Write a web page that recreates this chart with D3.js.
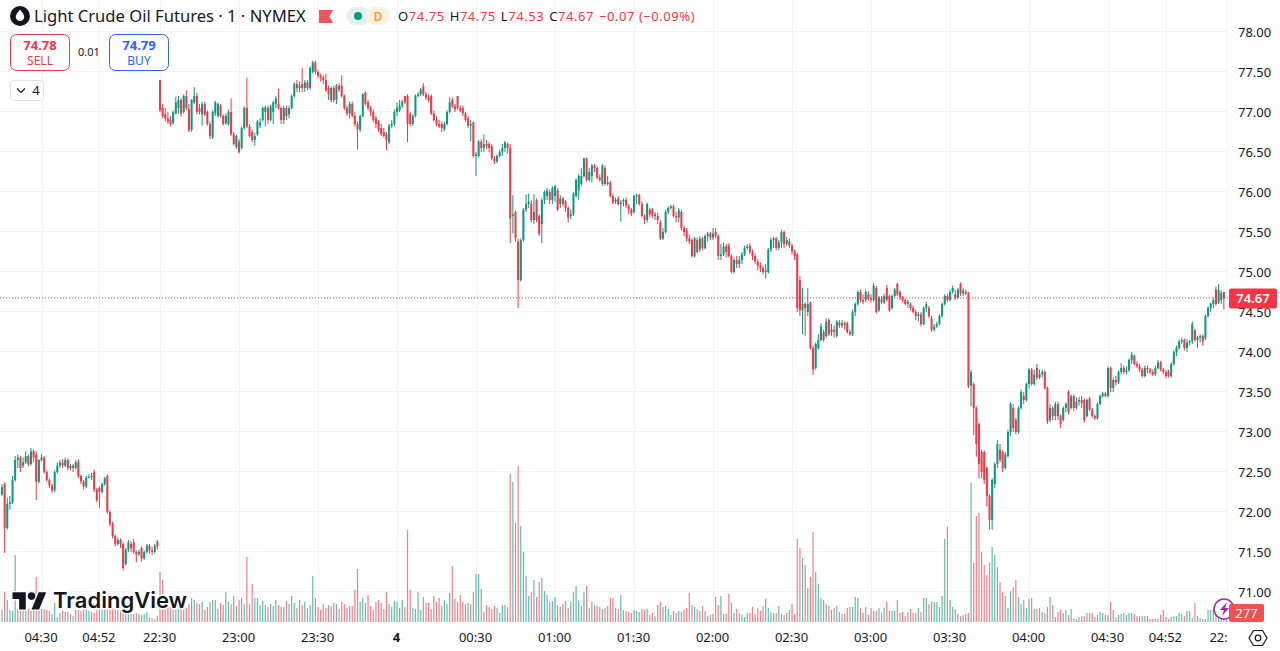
<!DOCTYPE html>
<html>
<head>
<meta charset="utf-8">
<title>Light Crude Oil Futures</title>
<script src="https://cdn.jsdelivr.net/npm/d3@7"></script>
<style>
  html, body { margin: 0; padding: 0; background: #fff; overflow: hidden; }
  text { font-family: "Noto Sans", sans-serif; }
</style>
</head>
<body>
<div id="canvas"></div>
<script>
// one bar per minute, left part is the tail of the previous session
const opens = [
72.22,72.35,71.80,72.10,72.12,72.40,72.65,72.68,72.58,72.62,
72.70,72.60,72.76,72.72,72.38,72.65,72.68,72.50,72.40,72.33,
72.27,72.50,72.58,72.62,72.58,72.65,72.55,72.58,72.55,72.63,
72.45,72.38,72.32,72.43,72.44,72.50,72.28,72.30,72.25,72.35,
72.45,72.00,71.85,71.70,71.60,71.65,71.60,71.35,71.53,71.60,
71.62,71.50,71.47,71.55,71.42,71.50,71.58,71.52,71.50,71.63,
77.40,77.05,76.97,76.92,76.90,76.86,76.98,77.05,77.15,77.00,
77.20,77.04,76.78,77.12,77.20,77.05,76.97,77.10,77.00,76.85,
76.68,76.98,76.95,77.08,76.95,76.86,76.85,77.00,76.72,76.56,
76.63,76.55,76.80,77.05,76.82,76.75,76.65,76.72,76.83,76.90,
77.00,77.05,76.90,77.00,77.10,77.10,77.05,76.90,77.05,76.97,
77.05,77.20,77.35,77.30,77.35,77.30,77.37,77.30,77.50,77.62,
77.50,77.45,77.43,77.40,77.30,77.15,77.30,77.15,77.33,77.33,
77.20,77.05,76.98,77.10,76.95,76.85,76.78,76.95,77.24,77.12,
77.05,77.00,76.92,76.88,76.80,76.75,76.72,76.62,76.83,76.85,
77.00,77.02,77.08,77.20,77.20,76.98,76.85,76.95,77.20,77.22,
77.32,77.22,77.18,77.20,76.98,76.90,76.85,76.85,76.78,76.85,
77.00,77.15,77.07,77.20,77.05,77.05,76.98,76.92,76.83,76.87,
76.45,76.45,76.63,76.55,76.60,76.60,76.57,76.42,76.38,76.45,
76.50,76.55,76.60,76.55,75.70,75.75,75.38,74.90,75.40,75.78,
75.85,75.85,75.65,75.90,75.70,75.60,75.90,75.95,76.00,75.90,
75.95,76.02,75.85,75.92,75.88,75.80,75.70,75.72,75.95,76.02,
76.10,76.20,76.42,76.15,76.20,76.33,76.30,76.18,76.10,76.30,
76.10,76.12,75.95,75.88,75.92,75.85,75.88,75.90,75.82,75.78,
75.75,75.95,75.96,75.85,75.70,75.65,75.78,75.78,75.70,75.70,
75.62,75.42,75.50,75.75,75.80,75.82,75.70,75.68,75.75,75.55,
75.52,75.42,75.40,75.20,75.40,75.28,75.42,75.30,75.45,75.48,
75.43,75.50,75.45,75.20,75.22,75.32,75.33,75.20,75.00,75.15,
75.10,75.15,75.22,75.30,75.33,75.25,75.20,75.13,75.08,75.05,
75.00,75.00,75.28,75.40,75.42,75.30,75.37,75.50,75.35,75.38,
75.33,75.26,75.22,74.90,74.52,74.60,74.50,74.62,74.05,73.80,
74.05,74.15,74.25,74.20,74.40,74.25,74.28,74.20,74.37,74.33,
74.36,74.36,74.25,74.22,74.50,74.60,74.75,74.65,74.65,74.72,
74.67,74.65,74.80,74.52,74.66,74.62,74.80,74.70,74.55,74.70,
74.85,74.75,74.68,74.65,74.60,74.60,74.55,74.50,74.45,74.47,
74.35,74.55,74.55,74.42,74.28,74.32,74.35,74.45,74.60,74.70,
74.65,74.75,74.72,74.68,74.85,74.73,74.75,74.73,73.58,73.60,
73.30,73.10,72.75,72.75,72.55,72.20,71.90,72.35,72.60,72.78,
72.75,72.55,72.70,73.00,73.30,73.15,73.00,73.30,73.45,73.40,
73.60,73.78,73.60,73.80,73.68,73.72,73.75,73.55,73.15,73.30,
73.20,73.35,73.20,73.15,73.30,73.50,73.30,73.45,73.30,73.38,
73.40,73.40,73.20,73.42,73.28,73.20,73.17,73.35,73.45,73.48,
73.45,73.80,73.55,73.65,73.62,73.75,73.80,73.75,73.77,73.90,
73.95,73.85,73.82,73.78,73.70,73.80,73.78,73.75,73.72,73.80,
73.87,73.78,73.75,73.75,73.70,73.85,74.00,74.05,74.13,74.15,
74.05,74.12,74.13,74.27,74.15,74.18,74.20,74.17,74.45,74.55,
74.60,74.78,74.62,74.65,74.75
];
const closes = [
72.31,71.80,72.10,72.12,72.40,72.65,72.68,72.55,72.62,72.70,
72.60,72.76,72.68,72.38,72.65,72.68,72.50,72.40,72.33,72.27,
72.50,72.58,72.62,72.58,72.65,72.55,72.58,72.55,72.62,72.45,
72.38,72.32,72.43,72.44,72.45,72.28,72.15,72.25,72.35,72.42,
72.00,71.85,71.70,71.60,71.65,71.60,71.30,71.53,71.62,71.55,
71.50,71.47,71.50,71.42,71.50,71.58,71.52,71.50,71.58,71.57,
77.02,76.95,76.92,76.88,76.85,77.00,77.12,77.15,76.98,77.20,
77.05,76.77,77.15,77.20,77.00,77.00,77.10,76.97,76.85,76.70,
77.00,77.12,77.10,76.95,76.85,76.95,77.00,76.72,76.60,76.70,
76.50,76.80,77.05,76.82,76.70,76.65,76.70,76.88,76.87,77.05,
77.06,76.90,77.07,77.12,77.17,77.05,76.90,77.05,76.95,77.05,
77.20,77.35,77.30,77.33,77.30,77.37,77.30,77.55,77.62,77.50,
77.45,77.43,77.40,77.27,77.22,77.30,77.15,77.33,77.28,77.20,
77.05,76.98,77.10,76.95,76.85,76.78,76.95,77.22,77.10,77.05,
77.00,76.90,76.85,76.78,76.72,76.70,76.65,76.83,76.85,77.00,
77.05,77.08,77.13,77.12,76.85,76.85,76.95,77.20,77.22,77.28,
77.22,77.18,77.15,76.98,76.90,76.85,76.82,76.80,76.85,77.00,
77.12,77.07,77.03,77.05,77.02,76.98,76.90,76.83,76.85,76.45,
76.47,76.63,76.55,76.60,76.58,76.55,76.42,76.38,76.45,76.50,
76.55,76.62,76.55,75.67,75.72,75.42,74.90,75.40,75.78,75.85,
75.88,75.65,75.75,75.65,75.48,75.90,76.00,76.02,75.90,76.05,
76.07,75.78,75.92,75.85,75.80,75.68,75.72,75.98,76.15,76.20,
76.20,76.42,76.15,76.25,76.33,76.30,76.18,76.15,76.33,76.10,
76.12,75.95,75.87,75.90,75.85,75.87,75.90,75.83,75.78,75.73,
75.95,75.96,75.85,75.70,75.65,75.85,75.72,75.70,75.72,75.65,
75.42,75.50,75.75,75.80,75.82,75.70,75.68,75.77,75.55,75.50,
75.42,75.38,75.20,75.42,75.25,75.42,75.30,75.45,75.48,75.43,
75.48,75.45,75.20,75.22,75.32,75.25,75.20,75.00,75.15,75.10,
75.15,75.22,75.30,75.32,75.25,75.20,75.13,75.08,75.05,75.00,
75.02,75.28,75.40,75.42,75.30,75.37,75.50,75.35,75.40,75.33,
75.26,75.20,74.55,74.52,74.60,74.55,74.60,74.05,73.78,74.10,
74.15,74.32,74.15,74.38,74.22,74.28,74.25,74.38,74.33,74.36,
74.34,74.25,74.22,74.50,74.60,74.75,74.65,74.63,74.75,74.67,
74.65,74.83,74.50,74.68,74.62,74.70,74.65,74.52,74.70,74.78,
74.72,74.68,74.65,74.60,74.63,74.55,74.50,74.45,74.47,74.35,
74.55,74.60,74.45,74.28,74.32,74.35,74.45,74.60,74.70,74.65,
74.75,74.80,74.68,74.78,74.73,74.77,74.73,73.57,73.75,73.30,
72.85,72.60,72.50,72.40,72.20,71.90,72.40,72.60,72.85,72.65,
72.55,72.72,73.00,73.35,73.05,73.00,73.30,73.50,73.40,73.60,
73.78,73.60,73.72,73.68,73.72,73.75,73.55,73.13,73.30,73.20,
73.35,73.20,73.10,73.30,73.35,73.25,73.45,73.30,73.38,73.40,
73.36,73.15,73.40,73.28,73.20,73.17,73.35,73.45,73.48,73.45,
73.80,73.55,73.65,73.62,73.75,73.80,73.75,73.77,73.90,73.97,
73.85,73.82,73.78,73.70,73.80,73.78,73.75,73.72,73.80,73.87,
73.78,73.75,73.70,73.70,73.85,74.00,74.05,74.13,74.15,74.05,
74.12,74.13,74.35,74.15,74.18,74.20,74.13,74.45,74.55,74.60,
74.65,74.60,74.78,74.74,74.67
];
const highs = [
72.35,72.37,72.18,72.20,72.45,72.70,72.72,72.70,72.68,72.76,
72.72,72.80,72.78,72.76,72.66,72.72,72.70,72.52,72.42,72.35,
72.52,72.62,72.65,72.66,72.68,72.67,72.60,72.60,72.65,72.66,
72.47,72.40,72.45,72.47,72.49,72.53,72.30,72.32,72.37,72.44,
72.47,72.02,71.88,71.72,71.68,71.67,71.62,71.55,71.65,71.63,
71.66,71.52,71.53,71.57,71.52,71.60,71.60,71.56,71.60,71.65,
77.40,77.10,77.05,77.00,76.95,77.02,77.19,77.20,77.17,77.22,
77.27,77.10,77.16,77.31,77.24,77.10,77.13,77.13,77.02,76.88,
77.02,77.14,77.12,77.10,76.97,76.98,77.03,77.17,76.75,76.72,
76.66,76.82,77.07,77.43,76.85,76.78,76.74,76.90,76.92,77.07,
77.08,77.08,77.09,77.14,77.20,77.29,77.07,77.08,77.08,77.08,
77.22,77.37,77.40,77.38,77.55,77.40,77.40,77.57,77.64,77.64,
77.53,77.48,77.46,77.48,77.33,77.32,77.33,77.35,77.36,77.46,
77.22,77.08,77.13,77.13,77.00,76.88,76.97,77.24,77.26,77.15,
77.08,77.03,76.95,76.90,76.85,76.80,76.75,76.85,76.90,77.03,
77.12,77.15,77.15,77.20,77.22,77.00,76.97,77.22,77.25,77.30,
77.36,77.25,77.22,77.22,77.02,76.95,76.90,76.88,76.88,77.02,
77.18,77.18,77.10,77.20,77.08,77.08,77.00,76.95,76.90,76.88,
76.50,76.65,76.66,76.72,76.65,76.62,76.60,76.45,76.47,76.53,
76.60,76.64,76.62,76.60,75.96,75.77,75.42,75.42,75.80,75.97,
75.98,75.90,75.97,75.92,75.72,75.92,76.02,76.05,76.03,76.07,
76.09,76.05,75.96,75.94,75.90,75.82,75.78,76.00,76.17,76.22,
76.30,76.43,76.43,76.30,76.35,76.35,76.32,76.22,76.35,76.33,
76.20,76.14,75.98,75.93,75.95,75.90,75.92,75.93,75.85,75.80,
75.97,75.98,75.98,75.88,75.72,75.87,75.80,75.80,75.75,75.74,
75.65,75.55,75.78,75.82,75.84,75.84,75.75,75.80,75.78,75.58,
75.55,75.47,75.42,75.44,75.43,75.45,75.44,75.47,75.50,75.50,
75.55,75.55,75.47,75.35,75.37,75.35,75.36,75.22,75.18,75.20,
75.20,75.25,75.33,75.35,75.36,75.28,75.23,75.16,75.12,75.08,
75.10,75.30,75.43,75.44,75.44,75.40,75.53,75.52,75.44,75.42,
75.35,75.28,75.24,74.95,74.80,74.62,74.80,74.63,74.08,74.12,
74.22,74.36,74.28,74.42,74.42,74.35,74.33,74.40,74.40,74.40,
74.38,74.38,74.28,74.53,74.62,74.77,74.78,74.72,74.78,74.76,
74.72,74.86,74.83,74.70,74.70,74.73,74.84,74.72,74.72,74.80,
74.87,74.77,74.70,74.67,74.65,74.62,74.58,74.53,74.50,74.50,
74.57,74.63,74.58,74.45,74.35,74.38,74.47,74.62,74.72,74.73,
74.78,74.83,74.78,74.80,74.87,74.80,74.78,74.75,73.78,73.62,
73.32,73.12,72.78,72.77,72.57,72.22,72.42,72.62,72.90,72.85,
72.77,72.75,73.03,73.37,73.35,73.18,73.32,73.53,73.50,73.62,
73.80,73.80,73.78,73.85,73.78,73.78,73.77,73.57,73.35,73.32,
73.38,73.38,73.22,73.32,73.37,73.52,73.47,73.47,73.43,73.44,
73.45,73.42,73.42,73.44,73.30,73.22,73.37,73.47,73.50,73.50,
73.82,73.82,73.68,73.70,73.77,73.86,73.83,73.82,73.92,74.00,
73.97,73.88,73.85,73.80,73.83,73.83,73.80,73.78,73.83,73.90,
73.89,73.80,73.78,73.78,73.87,74.02,74.08,74.16,74.18,74.17,
74.16,74.15,74.38,74.29,74.20,74.22,74.22,74.47,74.57,74.62,
74.68,74.82,74.85,74.77,74.75
];
const lows = [
72.20,71.49,71.78,72.03,72.10,72.38,72.55,72.50,72.55,72.60,
72.57,72.58,72.62,72.15,72.36,72.63,72.48,72.38,72.30,72.24,
72.25,72.48,72.55,72.55,72.56,72.52,72.52,72.50,72.53,72.42,
72.35,72.28,72.30,72.42,72.40,72.25,72.12,72.05,72.23,72.33,
71.98,71.82,71.67,71.57,71.58,71.55,71.27,71.33,71.50,71.50,
71.48,71.37,71.45,71.38,71.40,71.48,71.48,71.46,71.48,71.53,
77.00,76.92,76.88,76.85,76.82,76.84,76.97,76.98,76.94,76.98,
77.02,76.75,76.75,77.10,76.97,76.97,76.83,76.95,76.83,76.66,
76.66,76.95,76.93,76.93,76.83,76.84,76.83,76.70,76.58,76.54,
76.48,76.53,76.78,76.80,76.68,76.62,76.58,76.70,76.80,76.88,
76.82,76.85,76.88,76.85,77.05,77.03,76.85,76.85,76.90,76.92,
77.03,77.18,77.25,77.25,77.25,77.25,77.27,77.28,77.48,77.47,
77.42,77.38,77.35,77.25,77.15,77.12,77.12,77.10,77.25,77.18,
77.02,76.95,76.92,76.93,76.82,76.53,76.75,76.93,77.08,77.02,
76.95,76.87,76.80,76.75,76.70,76.68,76.52,76.60,76.80,76.82,
76.95,77.00,77.05,77.10,76.62,76.82,76.83,76.93,77.18,77.20,
77.20,77.15,77.12,76.96,76.88,76.82,76.80,76.75,76.76,76.83,
76.98,77.05,77.00,77.03,77.00,76.95,76.88,76.80,76.63,76.43,
76.20,76.43,76.50,76.50,76.54,76.50,76.40,76.35,76.36,76.43,
76.45,76.50,76.48,75.36,75.48,75.38,74.55,74.88,75.38,75.75,
75.80,75.62,75.60,75.62,75.45,75.36,75.85,75.90,75.85,75.85,
75.88,75.76,75.80,75.82,75.75,75.62,75.66,75.70,75.93,75.90,
76.08,76.18,76.13,76.13,76.12,76.25,76.16,76.13,76.08,76.08,
76.08,75.93,75.85,75.85,75.83,75.63,75.82,75.80,75.72,75.70,
75.73,75.85,75.83,75.68,75.60,75.62,75.68,75.67,75.65,75.60,
75.40,75.40,75.48,75.72,75.78,75.68,75.62,75.62,75.52,75.45,
75.38,75.35,75.18,75.18,75.23,75.25,75.27,75.28,75.38,75.40,
75.40,75.42,75.15,75.15,75.20,75.18,75.18,74.98,74.98,75.05,
75.05,75.10,75.20,75.28,75.22,75.15,75.10,75.02,75.00,74.97,
74.92,74.98,75.25,75.30,75.27,75.27,75.30,75.30,75.32,75.30,
75.22,75.15,74.50,74.45,74.22,74.20,74.45,74.03,73.71,73.78,
74.03,74.13,74.13,74.18,74.20,74.20,74.18,74.18,74.30,74.30,
74.28,74.23,74.20,74.20,74.45,74.58,74.62,74.60,74.62,74.64,
74.62,74.63,74.48,74.50,74.60,74.60,74.63,74.50,74.53,74.68,
74.70,74.65,74.62,74.58,74.55,74.52,74.48,74.40,74.38,74.32,
74.33,74.50,74.42,74.25,74.26,74.30,74.33,74.43,74.58,74.62,
74.63,74.73,74.65,74.66,74.70,74.70,74.71,73.55,73.32,72.96,
72.69,72.42,72.42,72.35,72.07,71.78,71.78,72.30,72.55,72.62,
72.50,72.53,72.68,72.95,73.00,72.97,72.98,73.28,73.35,73.38,
73.55,73.58,73.58,73.65,73.66,73.68,73.53,73.10,73.12,73.15,
73.15,73.15,73.05,73.13,73.25,73.22,73.28,73.26,73.28,73.33,
73.30,73.12,73.18,73.26,73.18,73.15,73.15,73.33,73.43,73.43,
73.43,73.50,73.50,73.58,73.60,73.72,73.72,73.72,73.75,73.85,
73.83,73.80,73.75,73.68,73.68,73.73,73.72,73.70,73.70,73.78,
73.76,73.72,73.67,73.68,73.68,73.83,73.95,74.03,74.10,74.02,
74.00,74.08,74.10,74.13,74.05,74.12,74.08,74.15,74.43,74.50,
74.55,74.58,74.60,74.60,74.53
];
const volumes = [
370,930,680,370,340,2060,400,430,430,400,
400,400,430,1390,430,400,400,370,340,250,
590,150,280,340,310,310,250,190,370,370,
340,430,430,340,310,280,370,400,400,430,
430,400,430,430,430,370,340,310,280,250,
250,280,250,220,250,310,150,120,90,190,
1540,1290,620,550,460,520,430,400,490,680,
430,550,740,680,590,550,620,370,460,620,
680,680,400,590,520,920,620,550,800,490,
680,740,550,2000,550,1170,740,740,520,650,
520,460,550,490,680,520,460,460,650,550,
800,590,430,680,520,620,430,520,1420,740,
460,370,550,430,520,490,590,550,400,620,
550,430,490,490,990,1630,620,740,590,830,
490,370,620,680,590,400,920,550,460,650,
620,430,680,460,2830,990,430,400,920,370,
770,590,590,400,800,620,740,490,680,550,
890,1720,710,620,830,620,550,590,550,920,
1480,1480,1020,310,520,460,400,490,430,280,
520,520,460,4560,4310,3050,4800,2960,2160,1420,
800,920,1290,770,1230,1360,950,830,620,650,
770,520,460,550,650,430,620,920,1110,680,
490,920,1110,430,620,520,490,460,400,430,
490,740,740,430,400,830,370,340,310,280,
370,340,310,400,370,400,220,280,180,520,
620,460,490,400,220,340,280,340,310,370,
430,890,520,460,400,340,490,340,180,220,
250,770,520,800,250,250,860,590,280,400,
250,220,150,280,280,460,250,430,340,490,
710,430,310,280,280,490,250,220,280,370,
550,250,2560,2280,1970,1760,1050,1390,2770,1540,
1170,740,680,550,490,370,430,490,310,250,
250,430,460,460,770,740,430,280,460,220,
430,340,340,430,280,430,620,340,340,340,
680,280,310,180,310,400,280,280,430,310,
740,740,550,620,620,620,460,800,2560,2930,
680,460,400,250,180,220,250,280,4280,1820,
3260,3360,2160,1760,1450,1820,2310,2060,1690,1230,
920,800,430,950,1080,1290,770,550,680,430,
710,740,400,400,430,310,280,460,770,520,
150,310,370,280,370,220,400,120,90,150,
180,180,280,280,280,150,220,310,280,220,
220,620,370,150,220,250,280,220,280,280,
250,180,180,180,180,180,90,90,90,90,
220,370,150,90,150,180,180,280,250,180,
340,340,120,590,180,120,90,90,370,370,
400,310,180,180,120,277
];
const timeTickBars = [15, 37, 60, 90, 120, 150, 180, 210, 240, 270, 300, 330, 360, 390, 420, 442, 465];
const timeTickLabels = ["04:30", "04:52", "22:30", "23:00", "23:30", "4", "00:30", "01:00", "01:30", "02:00", "02:30", "03:00", "03:30", "04:00", "04:30", "04:52", "22:30"];
const priceTicks = [71, 71.5, 72, 72.5, 73, 73.5, 74, 74.5, 75, 75.5, 76, 76.5, 77, 77.5, 78];
const lastPrice = 74.67;
const lastVolume = 277;

const width = 1280;
const height = 651;
const upColor = "#089981";
const downColor = "#f23645";

const svg = d3.select("#canvas").append("svg")
    .attr("width", width)
    .attr("height", height)
    .style("display", "block");

const defs = svg.append("defs");
defs.append("clipPath").attr("id", "pane")
    .append("rect").attr("x", 0).attr("y", 0).attr("width", 1228).attr("height", 651);

const x = d3.scaleLinear().domain([60, 465]).range([160, 1226.5]);
const y = d3.scaleLinear().domain([71, 78]).range([592, 32]);
const yVol = d3.scaleLinear().domain([0, 4800]).range([622, 466]);

// grid
const grid = svg.append("g");
grid.selectAll(".h").data(priceTicks).enter().append("line")
    .attr("x1", 0).attr("x2", 1228)
    .attr("y1", d => y(d) - 0.5).attr("y2", d => y(d) - 0.5)
    .attr("stroke", "#f3f4f6");
grid.selectAll(".v").data(timeTickBars).enter().append("line")
    .attr("x1", d => Math.round(x(d)) + 0.5).attr("x2", d => Math.round(x(d)) + 0.5)
    .attr("y1", 0).attr("y2", 622)
    .attr("stroke", "#f3f4f6");

// volume
svg.append("g").selectAll("rect").data(volumes).enter().append("rect")
    .attr("x", (d, i) => x(i) - 0.6)
    .attr("width", 1.2)
    .attr("y", d => yVol(d))
    .attr("height", d => yVol(0) - yVol(d))
    .attr("fill", (d, i) => closes[i] >= opens[i] ? upColor : downColor)
    .attr("opacity", 0.65);

// candles
const candles = svg.append("g").selectAll("g").data(closes).enter().append("g");
candles.append("line")
    .attr("x1", (d, i) => x(i)).attr("x2", (d, i) => x(i))
    .attr("y1", (d, i) => y(highs[i])).attr("y2", (d, i) => y(lows[i]))
    .attr("stroke", (d, i) => d >= opens[i] ? upColor : downColor)
    .attr("stroke-width", 1);
candles.append("rect")
    .attr("x", (d, i) => x(i) - 1)
    .attr("width", 2)
    .attr("y", (d, i) => y(Math.max(d, opens[i])))
    .attr("height", (d, i) => Math.max(1, Math.abs(y(d) - y(opens[i]))))
    .attr("fill", (d, i) => d >= opens[i] ? upColor : downColor);

// last price line
svg.append("line")
    .attr("x1", 0).attr("x2", 1228)
    .attr("y1", y(lastPrice) - 0.5).attr("y2", y(lastPrice) - 0.5)
    .attr("stroke", downColor)
    .attr("stroke-dasharray", "1 2");

// axes
const yAxis = svg.append("g")
    .attr("transform", "translate(1228,0)")
    .call(d3.axisRight(y).tickValues(priceTicks).tickFormat(d3.format(".2f")).tickSize(0).tickPadding(10));
yAxis.select(".domain").remove();
yAxis.selectAll("text")
    .attr("fill", "#131722")
    .style("font-size", "13px")
    .style("font-family", '"Noto Sans", sans-serif');

const xAxis = svg.append("g")
    .attr("clip-path", "url(#pane)")
    .append("g")
    .attr("transform", "translate(0,633)")
    .call(d3.axisBottom(x).tickValues(timeTickBars).tickFormat((d, i) => timeTickLabels[i]).tickSize(0).tickPadding(0));
xAxis.select(".domain").remove();
xAxis.selectAll("text")
    .attr("fill", "#131722")
    .attr("dx", -1)
    .style("font-size", "13px")
    .style("font-family", '"Noto Sans", sans-serif')
    .style("font-weight", (d, i) => timeTickLabels[i] === "4" ? 700 : 400);

// lightning badge, partly under the volume tag
svg.append("circle").attr("cx", 1224).attr("cy", 609).attr("r", 10)
    .attr("fill", "#fff").attr("stroke", "#9c27b0").attr("stroke-width", 1.5);
svg.append("path").attr("d", "M1227 602l-7 8h4l-2 6 7-8h-4z").attr("fill", "#9c27b0");

// price and volume tags
svg.append("rect").attr("x", 1229).attr("y", y(lastPrice) - 10).attr("width", 48).attr("height", 20).attr("rx", 2).attr("fill", downColor);
svg.append("text").attr("x", 1253).attr("y", y(lastPrice) + 5).attr("text-anchor", "middle")
    .attr("fill", "#fff").style("font-size", "13px").style("font-weight", 600).text(lastPrice.toFixed(2));
svg.append("rect").attr("x", 1229).attr("y", 604).attr("width", 35).attr("height", 18).attr("rx", 2).attr("fill", "#ef5350");
svg.append("text").attr("x", 1246.5).attr("y", 618).attr("text-anchor", "middle")
    .attr("fill", "#fff").style("font-size", "13px").text(lastVolume);

// settings icon
svg.append("path").attr("d", "M1249 638l4.5-7.5h9l4.5 7.5l-4.5 7.5h-9z").attr("fill", "none").attr("stroke", "#131722").attr("stroke-width", 1.2);
svg.append("circle").attr("cx", 1258).attr("cy", 638).attr("r", 2.8).attr("fill", "none").attr("stroke", "#131722").attr("stroke-width", 1.2);

// watermark
const logo = svg.append("g").attr("transform", "translate(12.5,588.5) scale(0.95)");
logo.append("path").attr("d", "M14 22H7V11H0V4h14v18zM28 22h-8l7.5-18h8L28 22z").attr("fill", "#131722").attr("stroke", "#fff").attr("stroke-width", 3).attr("paint-order", "stroke");
logo.append("circle").attr("cx", 20).attr("cy", 8).attr("r", 4).attr("fill", "#131722");
svg.append("text").attr("x", 53).attr("y", 608)
    .attr("fill", "#131722").attr("stroke", "#fff").attr("stroke-width", 3).attr("paint-order", "stroke")
    .style("font-family", "Inter, sans-serif").style("font-size", "22px").style("font-weight", 600).text("TradingView");

// header
svg.append("circle").attr("cx", 20).attr("cy", 16).attr("r", 10).attr("fill", "#131722");
svg.append("path").attr("d", "M20 9.5c2.5 3.2 4.2 5.2 4.2 7.4a4.2 4.2 0 0 1-8.4 0c0-2.2 1.7-4.2 4.2-7.4z").attr("fill", "#fff");
svg.append("text").attr("x", 34).attr("y", 22).attr("fill", "#131722").style("font-size", "16.6px").text("Light Crude Oil Futures · 1 · NYMEX");
svg.append("path").attr("d", "M319 10h14l-3.5 6.5l3.5 6.5h-14z").attr("fill", "#f7525f");

svg.append("rect").attr("x", 346).attr("y", 7).attr("width", 24).attr("height", 18).attr("rx", 9).attr("fill", "#e3f2f1");
svg.append("rect").attr("x", 366).attr("y", 7).attr("width", 24).attr("height", 18).attr("rx", 9).attr("fill", "#fdf0e0");
svg.append("circle").attr("cx", 358).attr("cy", 16).attr("r", 4).attr("fill", upColor);
svg.append("text").attr("x", 378).attr("y", 21).attr("text-anchor", "middle").attr("fill", "#f29d38").style("font-size", "12px").style("font-weight", 600).text("D");

const legend = svg.append("text").attr("x", 398).attr("y", 21)
    .style("font-size", "13px").style("letter-spacing", "0.55px").attr("fill", downColor);
legend.append("tspan").attr("fill", "#131722").text("O");
legend.append("tspan").text(opens[464].toFixed(2));
legend.append("tspan").attr("dx", 5).attr("fill", "#131722").text("H");
legend.append("tspan").text(highs[464].toFixed(2));
legend.append("tspan").attr("dx", 5).attr("fill", "#131722").text("L");
legend.append("tspan").text(lows[464].toFixed(2));
legend.append("tspan").attr("dx", 5).attr("fill", "#131722").text("C");
legend.append("tspan").text(closes[464].toFixed(2));
legend.append("tspan").attr("dx", 5).text("−0.07 (−0.09%)");

// trade buttons
svg.append("rect").attr("x", 10.5).attr("y", 34.5).attr("width", 59).attr("height", 36).attr("rx", 6).attr("fill", "#fff").attr("stroke", downColor);
svg.append("text").attr("x", 40).attr("y", 50).attr("text-anchor", "middle").attr("fill", downColor).style("font-size", "13px").style("font-weight", 700).text("74.78");
svg.append("text").attr("x", 40).attr("y", 65).attr("text-anchor", "middle").attr("fill", downColor).style("font-size", "12px").text("SELL");
svg.append("text").attr("x", 89).attr("y", 56).attr("text-anchor", "middle").attr("fill", "#131722").style("font-size", "11px").text("0.01");
svg.append("rect").attr("x", 109.5).attr("y", 34.5).attr("width", 59).attr("height", 36).attr("rx", 6).attr("fill", "#fff").attr("stroke", "#2962ff");
svg.append("text").attr("x", 139).attr("y", 50).attr("text-anchor", "middle").attr("fill", "#2962ff").style("font-size", "13px").style("font-weight", 700).text("74.79");
svg.append("text").attr("x", 139).attr("y", 65).attr("text-anchor", "middle").attr("fill", "#2962ff").style("font-size", "12px").text("BUY");

// collapse button
svg.append("rect").attr("x", 10.5).attr("y", 80.5).attr("width", 33).attr("height", 20).attr("rx", 3).attr("fill", "#fff").attr("stroke", "#e0e3eb");
svg.append("path").attr("d", "M17 88.5l4 4l4-4").attr("fill", "none").attr("stroke", "#131722").attr("stroke-width", 1.2);
svg.append("text").attr("x", 36).attr("y", 95).attr("text-anchor", "middle").attr("fill", "#131722").style("font-size", "13px").text("4");
</script>
</body>
</html>
